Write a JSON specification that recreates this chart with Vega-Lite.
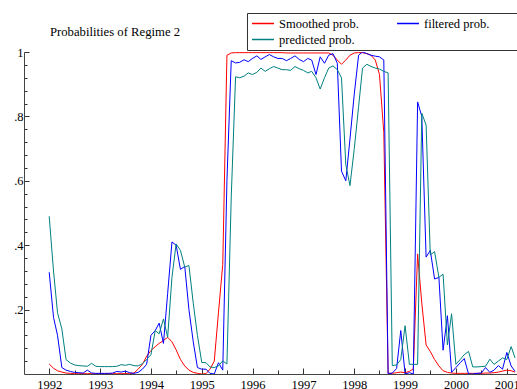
{
  "$schema": "https://vega.github.io/schema/vega-lite/v6.json",
  "width": 493,
  "height": 322,
  "autosize": "none",
  "padding": {"left": 24, "top": 52, "right": 0, "bottom": 15},
  "background": "white",
  "title": {
    "text": "Probabilities of Regime 2",
    "anchor": "start",
    "frame": "group",
    "dx": 26,
    "offset": -26,
    "font": "Liberation Serif",
    "fontSize": 12.7,
    "fontWeight": "normal",
    "color": "#000000"
  },
  "data": {
    "values": [
      {"month": "1992-01", "smoothed": 0.031, "filtered": 0.316, "predicted": 0.49},
      {"month": "1992-02", "smoothed": 0.018, "filtered": 0.176, "predicted": 0.32},
      {"month": "1992-03", "smoothed": 0.010, "filtered": 0.12, "predicted": 0.19},
      {"month": "1992-04", "smoothed": 0.006, "filtered": 0.02, "predicted": 0.14},
      {"month": "1992-05", "smoothed": 0.003, "filtered": 0.012, "predicted": 0.045},
      {"month": "1992-06", "smoothed": 0.002, "filtered": 0.008, "predicted": 0.034},
      {"month": "1992-07", "smoothed": 0.001, "filtered": 0.005, "predicted": 0.028},
      {"month": "1992-08", "smoothed": 0.001, "filtered": 0.004, "predicted": 0.026},
      {"month": "1992-09", "smoothed": 0.001, "filtered": 0.003, "predicted": 0.025},
      {"month": "1992-10", "smoothed": 0.001, "filtered": 0.012, "predicted": 0.024},
      {"month": "1992-11", "smoothed": 0.001, "filtered": 0.003, "predicted": 0.033},
      {"month": "1992-12", "smoothed": 0.001, "filtered": 0.002, "predicted": 0.024},
      {"month": "1993-01", "smoothed": 0.001, "filtered": 0.002, "predicted": 0.023},
      {"month": "1993-02", "smoothed": 0.001, "filtered": 0.002, "predicted": 0.023},
      {"month": "1993-03", "smoothed": 0.001, "filtered": 0.002, "predicted": 0.023},
      {"month": "1993-04", "smoothed": 0.001, "filtered": 0.003, "predicted": 0.023},
      {"month": "1993-05", "smoothed": 0.001, "filtered": 0.008, "predicted": 0.024},
      {"month": "1993-06", "smoothed": 0.001, "filtered": 0.006, "predicted": 0.029},
      {"month": "1993-07", "smoothed": 0.001, "filtered": 0.009, "predicted": 0.027},
      {"month": "1993-08", "smoothed": 0.001, "filtered": 0.004, "predicted": 0.030},
      {"month": "1993-09", "smoothed": 0.003, "filtered": 0.002, "predicted": 0.026},
      {"month": "1993-10", "smoothed": 0.015, "filtered": 0.005, "predicted": 0.025},
      {"month": "1993-11", "smoothed": 0.030, "filtered": 0.015, "predicted": 0.032},
      {"month": "1993-12", "smoothed": 0.055, "filtered": 0.03, "predicted": 0.045},
      {"month": "1994-01", "smoothed": 0.073, "filtered": 0.12, "predicted": 0.06},
      {"month": "1994-02", "smoothed": 0.085, "filtered": 0.135, "predicted": 0.135},
      {"month": "1994-03", "smoothed": 0.095, "filtered": 0.158, "predicted": 0.125},
      {"month": "1994-04", "smoothed": 0.104, "filtered": 0.095, "predicted": 0.171},
      {"month": "1994-05", "smoothed": 0.114, "filtered": 0.25, "predicted": 0.114},
      {"month": "1994-06", "smoothed": 0.100, "filtered": 0.41, "predicted": 0.30},
      {"month": "1994-07", "smoothed": 0.075, "filtered": 0.40, "predicted": 0.404},
      {"month": "1994-08", "smoothed": 0.045, "filtered": 0.325, "predicted": 0.384},
      {"month": "1994-09", "smoothed": 0.025, "filtered": 0.334, "predicted": 0.332},
      {"month": "1994-10", "smoothed": 0.012, "filtered": 0.20, "predicted": 0.337},
      {"month": "1994-11", "smoothed": 0.005, "filtered": 0.10, "predicted": 0.22},
      {"month": "1994-12", "smoothed": 0.002, "filtered": 0.02, "predicted": 0.12},
      {"month": "1995-01", "smoothed": 0.000, "filtered": 0.015, "predicted": 0.036},
      {"month": "1995-02", "smoothed": 0.001, "filtered": 0.015, "predicted": 0.035},
      {"month": "1995-03", "smoothed": 0.015, "filtered": 0.002, "predicted": 0.022},
      {"month": "1995-04", "smoothed": 0.040, "filtered": 0.0, "predicted": 0.02},
      {"month": "1995-05", "smoothed": 0.190, "filtered": 0.035, "predicted": 0.025},
      {"month": "1995-06", "smoothed": 0.340, "filtered": 0.012, "predicted": 0.041},
      {"month": "1995-07", "smoothed": 0.990, "filtered": 0.6, "predicted": 0.031},
      {"month": "1995-08", "smoothed": 0.997, "filtered": 0.973, "predicted": 0.55},
      {"month": "1995-09", "smoothed": 0.998, "filtered": 0.966, "predicted": 0.923},
      {"month": "1995-10", "smoothed": 0.998, "filtered": 0.968, "predicted": 0.92},
      {"month": "1995-11", "smoothed": 0.998, "filtered": 0.976, "predicted": 0.925},
      {"month": "1995-12", "smoothed": 0.998, "filtered": 0.97, "predicted": 0.935},
      {"month": "1996-01", "smoothed": 0.998, "filtered": 0.98, "predicted": 0.93},
      {"month": "1996-02", "smoothed": 0.998, "filtered": 0.988, "predicted": 0.937},
      {"month": "1996-03", "smoothed": 0.998, "filtered": 0.977, "predicted": 0.95},
      {"month": "1996-04", "smoothed": 0.998, "filtered": 0.985, "predicted": 0.94},
      {"month": "1996-05", "smoothed": 0.998, "filtered": 0.992, "predicted": 0.948},
      {"month": "1996-06", "smoothed": 0.998, "filtered": 0.985, "predicted": 0.955},
      {"month": "1996-07", "smoothed": 0.998, "filtered": 0.98, "predicted": 0.95},
      {"month": "1996-08", "smoothed": 0.998, "filtered": 0.98, "predicted": 0.945},
      {"month": "1996-09", "smoothed": 0.997, "filtered": 0.973, "predicted": 0.945},
      {"month": "1996-10", "smoothed": 0.997, "filtered": 0.98, "predicted": 0.943},
      {"month": "1996-11", "smoothed": 0.997, "filtered": 0.988, "predicted": 0.955},
      {"month": "1996-12", "smoothed": 0.997, "filtered": 0.977, "predicted": 0.948},
      {"month": "1997-01", "smoothed": 0.997, "filtered": 0.97, "predicted": 0.943},
      {"month": "1997-02", "smoothed": 0.997, "filtered": 0.98, "predicted": 0.935},
      {"month": "1997-03", "smoothed": 0.997, "filtered": 0.975, "predicted": 0.94},
      {"month": "1997-04", "smoothed": 0.997, "filtered": 0.93, "predicted": 0.92},
      {"month": "1997-05", "smoothed": 0.997, "filtered": 0.985, "predicted": 0.885},
      {"month": "1997-06", "smoothed": 0.997, "filtered": 0.965, "predicted": 0.92},
      {"month": "1997-07", "smoothed": 0.997, "filtered": 0.99, "predicted": 0.95},
      {"month": "1997-08", "smoothed": 0.990, "filtered": 0.995, "predicted": 0.957},
      {"month": "1997-09", "smoothed": 0.975, "filtered": 0.965, "predicted": 0.945},
      {"month": "1997-10", "smoothed": 0.962, "filtered": 0.63, "predicted": 0.92},
      {"month": "1997-11", "smoothed": 0.975, "filtered": 0.6, "predicted": 0.65},
      {"month": "1997-12", "smoothed": 0.990, "filtered": 0.73, "predicted": 0.585},
      {"month": "1998-01", "smoothed": 0.997, "filtered": 0.87, "predicted": 0.7},
      {"month": "1998-02", "smoothed": 0.998, "filtered": 0.99, "predicted": 0.83},
      {"month": "1998-03", "smoothed": 0.998, "filtered": 1.0, "predicted": 0.95},
      {"month": "1998-04", "smoothed": 0.995, "filtered": 0.995, "predicted": 0.962},
      {"month": "1998-05", "smoothed": 0.990, "filtered": 0.99, "predicted": 0.955},
      {"month": "1998-06", "smoothed": 0.975, "filtered": 0.987, "predicted": 0.95},
      {"month": "1998-07", "smoothed": 0.930, "filtered": 0.985, "predicted": 0.947},
      {"month": "1998-08", "smoothed": 0.750, "filtered": 0.975, "predicted": 0.94},
      {"month": "1998-09", "smoothed": 0.003, "filtered": 0.0, "predicted": 0.935},
      {"month": "1998-10", "smoothed": 0.002, "filtered": 0.003, "predicted": 0.026},
      {"month": "1998-11", "smoothed": 0.004, "filtered": 0.017, "predicted": 0.028},
      {"month": "1998-12", "smoothed": 0.006, "filtered": 0.135, "predicted": 0.045},
      {"month": "1999-01", "smoothed": 0.004, "filtered": 0.0, "predicted": 0.15},
      {"month": "1999-02", "smoothed": 0.008, "filtered": 0.004, "predicted": 0.03},
      {"month": "1999-03", "smoothed": 0.016, "filtered": 0.0, "predicted": 0.03},
      {"month": "1999-04", "smoothed": 0.373, "filtered": 0.845, "predicted": 0.03},
      {"month": "1999-05", "smoothed": 0.220, "filtered": 0.8, "predicted": 0.81},
      {"month": "1999-06", "smoothed": 0.090, "filtered": 0.363, "predicted": 0.773},
      {"month": "1999-07", "smoothed": 0.070, "filtered": 0.384, "predicted": 0.37},
      {"month": "1999-08", "smoothed": 0.045, "filtered": 0.295, "predicted": 0.38},
      {"month": "1999-09", "smoothed": 0.025, "filtered": 0.3, "predicted": 0.3},
      {"month": "1999-10", "smoothed": 0.010, "filtered": 0.074, "predicted": 0.31},
      {"month": "1999-11", "smoothed": 0.005, "filtered": 0.181, "predicted": 0.09},
      {"month": "1999-12", "smoothed": 0.003, "filtered": 0.005, "predicted": 0.187},
      {"month": "2000-01", "smoothed": 0.002, "filtered": 0.02, "predicted": 0.03},
      {"month": "2000-02", "smoothed": 0.002, "filtered": 0.035, "predicted": 0.045},
      {"month": "2000-03", "smoothed": 0.002, "filtered": 0.048, "predicted": 0.06},
      {"month": "2000-04", "smoothed": 0.002, "filtered": 0.0, "predicted": 0.07},
      {"month": "2000-05", "smoothed": 0.002, "filtered": 0.0, "predicted": 0.022},
      {"month": "2000-06", "smoothed": 0.002, "filtered": 0.002, "predicted": 0.022},
      {"month": "2000-07", "smoothed": 0.002, "filtered": 0.003, "predicted": 0.023},
      {"month": "2000-08", "smoothed": 0.003, "filtered": 0.02, "predicted": 0.024},
      {"month": "2000-09", "smoothed": 0.003, "filtered": 0.005, "predicted": 0.046},
      {"month": "2000-10", "smoothed": 0.004, "filtered": 0.012, "predicted": 0.03},
      {"month": "2000-11", "smoothed": 0.006, "filtered": 0.026, "predicted": 0.04},
      {"month": "2000-12", "smoothed": 0.009, "filtered": 0.015, "predicted": 0.05},
      {"month": "2001-01", "smoothed": 0.012, "filtered": 0.067, "predicted": 0.045},
      {"month": "2001-02", "smoothed": 0.010, "filtered": 0.025, "predicted": 0.085},
      {"month": "2001-03", "smoothed": 0.006, "filtered": 0.008, "predicted": 0.05}
    ]
  },
  "transform": [
    {"fold": ["smoothed", "filtered", "predicted"], "as": ["series", "prob"]}
  ],
  "mark": {"type": "line", "strokeWidth": 1, "clip": true},
  "encoding": {
    "x": {
      "field": "month",
      "type": "temporal",
      "scale": {
        "type": "utc",
        "domain": [
          {"year": 1991, "month": 7, "date": 4, "utc": true},
          {"year": 2001, "month": 3, "date": 15, "utc": true}
        ]
      },
      "axis": {
        "title": null,
        "grid": false,
        "values": [
          {"year": 1992, "month": 1, "date": 1, "utc": true},
          {"year": 1992, "month": 7, "date": 1, "utc": true},
          {"year": 1993, "month": 1, "date": 1, "utc": true},
          {"year": 1993, "month": 7, "date": 1, "utc": true},
          {"year": 1994, "month": 1, "date": 1, "utc": true},
          {"year": 1994, "month": 7, "date": 1, "utc": true},
          {"year": 1995, "month": 1, "date": 1, "utc": true},
          {"year": 1995, "month": 7, "date": 1, "utc": true},
          {"year": 1996, "month": 1, "date": 1, "utc": true},
          {"year": 1996, "month": 7, "date": 1, "utc": true},
          {"year": 1997, "month": 1, "date": 1, "utc": true},
          {"year": 1997, "month": 7, "date": 1, "utc": true},
          {"year": 1998, "month": 1, "date": 1, "utc": true},
          {"year": 1998, "month": 7, "date": 1, "utc": true},
          {"year": 1999, "month": 1, "date": 1, "utc": true},
          {"year": 1999, "month": 7, "date": 1, "utc": true},
          {"year": 2000, "month": 1, "date": 1, "utc": true},
          {"year": 2000, "month": 7, "date": 1, "utc": true},
          {"year": 2001, "month": 1, "date": 1, "utc": true}
        ],
        "labelExpr": "utcmonth(datum.value) == 0 ? utcFormat(datum.value, '%Y') : ''",
        "tickSize": {"condition": {"test": "utcmonth(datum.value) == 0", "value": -6}, "value": -4},
        "tickColor": "#333333",
        "domainColor": "#444444",
        "labelFont": "Liberation Serif",
        "labelFontSize": 12.5,
        "labelColor": "#000000",
        "labelPadding": 10,
        "labelOverlap": false,
        "labelBound": false,
        "labelFlush": false
      }
    },
    "y": {
      "field": "prob",
      "type": "quantitative",
      "scale": {"domain": [0, 1], "nice": false, "zero": false},
      "axis": {
        "title": null,
        "grid": false,
        "values": [0.04, 0.08, 0.12, 0.16, 0.2, 0.24, 0.28, 0.32, 0.36, 0.4, 0.44, 0.48, 0.52, 0.56, 0.6, 0.64, 0.68, 0.72, 0.76, 0.8, 0.84, 0.88, 0.92, 0.96, 1],
        "labelExpr": "abs(datum.value * 5 - round(datum.value * 5)) > 0.01 ? '' : datum.value == 1 ? '1' : replace(format(datum.value, '.1f'), '0.', '.')",
        "tickSize": {"condition": {"test": "abs(datum.value * 5 - round(datum.value * 5)) < 0.01", "value": -5}, "value": -3},
        "tickColor": "#333333",
        "domainColor": "#444444",
        "labelFont": "Liberation Serif",
        "labelFontSize": 12.5,
        "labelColor": "#000000",
        "labelPadding": 6,
        "labelOverlap": false
      }
    },
    "color": {
      "field": "series",
      "type": "nominal",
      "scale": {
        "domain": ["smoothed", "filtered", "predicted"],
        "range": ["#ff0000", "#0000ff", "#008080"]
      },
      "legend": {
        "orient": "none",
        "legendX": 223,
        "legendY": -39,
        "direction": "horizontal",
        "columns": 2,
        "gridAlign": "all",
        "title": " ",
        "titleOrient": "right",
        "titleFontSize": 12,
        "titlePadding": 28,
        "symbolType": "M-1,0H3",
        "symbolSize": 121,
        "symbolStrokeWidth": 1.5,
        "symbolFillColor": "transparent",
        "labelFont": "Liberation Serif",
        "labelFontSize": 12.5,
        "labelColor": "#000000",
        "labelOffset": 15,
        "labelExpr": "datum.label == 'smoothed' ? 'Smoothed prob.' : datum.label == 'filtered' ? 'filtered prob.' : 'predicted prob.'",
        "strokeColor": "#333333",
        "fillColor": "#ffffff",
        "padding": 4,
        "columnPadding": 35,
        "rowPadding": 3
      }
    }
  },
  "config": {
    "view": {"stroke": null},
    "font": "Liberation Serif"
  }
}
